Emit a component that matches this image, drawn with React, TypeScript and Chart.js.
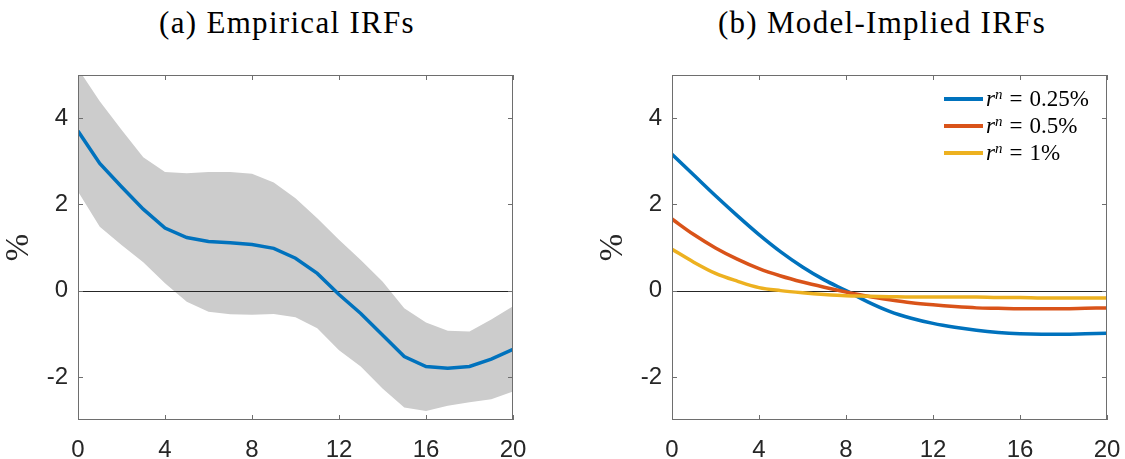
import React, { useEffect, useRef } from "react";
import { Chart, registerables } from "chart.js";

Chart.register(...registerables);

// ---------- data ----------
const horizons = [0, 1, 2, 3, 4, 5, 6, 7, 8, 9, 10, 11, 12, 13, 14, 15, 16, 17, 18, 19, 20];

const empiricalIrf = [3.70, 2.95, 2.41, 1.89, 1.45, 1.23, 1.14, 1.11, 1.07, 0.98, 0.75, 0.40, -0.09, -0.53, -1.03, -1.53, -1.76, -1.80, -1.76, -1.59, -1.36];
const empiricalUpper = [5.15, 4.39, 3.73, 3.09, 2.75, 2.72, 2.75, 2.75, 2.71, 2.51, 2.14, 1.68, 1.18, 0.71, 0.21, -0.41, -0.74, -0.93, -0.95, -0.67, -0.36];
const empiricalLower = [2.30, 1.48, 1.06, 0.66, 0.17, -0.26, -0.49, -0.55, -0.56, -0.54, -0.62, -0.87, -1.38, -1.76, -2.27, -2.71, -2.79, -2.67, -2.59, -2.52, -2.34];

const modelIrf025 = [3.16, 2.68, 2.20, 1.74, 1.30, 0.90, 0.55, 0.25, 0.0, -0.26, -0.48, -0.64, -0.76, -0.85, -0.92, -0.97, -1.00, -1.01, -1.01, -1.00, -0.99];
const modelIrf05 = [1.66, 1.30, 0.99, 0.73, 0.51, 0.34, 0.20, 0.08, -0.03, -0.13, -0.21, -0.28, -0.33, -0.37, -0.40, -0.41, -0.42, -0.42, -0.42, -0.41, -0.40];
const modelIrf1 = [0.96, 0.66, 0.40, 0.22, 0.07, 0.0, -0.05, -0.09, -0.12, -0.13, -0.14, -0.15, -0.15, -0.15, -0.15, -0.16, -0.16, -0.17, -0.17, -0.17, -0.17];

const xTickValues = [0, 4, 8, 12, 16, 20];
const yTickValues = [-2, 0, 2, 4];
const panelTitles = ["(a) Empirical IRFs", "(b) Model-Implied IRFs"];
const legendRates = ["0.25%", "0.5%", "1%"];
const seriesColors = ["#0072BD", "#D95319", "#EDB120"];
const bandColor = "#CCCCCC";
const axisLabel = "%";

// ---------- helpers ----------
const toPoints = (vals: number[]) => vals.map((v, i) => ({ x: horizons[i], y: v }));

const drawZero = (chart: any) => {
  const { ctx, chartArea, scales } = chart;
  const y = Math.round(scales.y.getPixelForValue(0)) + 0.5;
  ctx.save();
  ctx.strokeStyle = "#262626";
  ctx.lineWidth = 1;
  ctx.beginPath();
  ctx.moveTo(chartArea.left, y);
  ctx.lineTo(chartArea.right, y);
  ctx.stroke();
  ctx.restore();
};

const framePlugin = {
  id: "matlabFrame",
  beforeDatasetsDraw(chart: any, _args: any, opts: any) {
    if (opts.zeroAfterIndex === -1) drawZero(chart);
  },
  afterDatasetDraw(chart: any, args: any, opts: any) {
    if (args.index === opts.zeroAfterIndex) drawZero(chart);
  },
  afterDraw(chart: any) {
    const { ctx, chartArea, scales } = chart;
    const { left, right, top, bottom } = chartArea;
    ctx.save();
    ctx.strokeStyle = "#6e6e6e";
    ctx.lineWidth = 1;
    ctx.strokeRect(left + 0.5, top + 0.5, right - left - 1, bottom - top - 1);
    const tl = 5;
    ctx.beginPath();
    xTickValues.forEach((v) => {
      const x = Math.round(scales.x.getPixelForValue(v)) + 0.5;
      ctx.moveTo(x, bottom);
      ctx.lineTo(x, bottom - tl);
      ctx.moveTo(x, top);
      ctx.lineTo(x, top + tl);
    });
    yTickValues.forEach((v) => {
      const y = Math.round(scales.y.getPixelForValue(v)) + 0.5;
      ctx.moveTo(left, y);
      ctx.lineTo(left + tl, y);
      ctx.moveTo(right, y);
      ctx.lineTo(right - tl, y);
    });
    ctx.stroke();
    ctx.restore();
  },
};

const makeOptions = (rightPad: number, zeroAfterIndex: number) => ({
  responsive: false,
  animation: false as const,
  layout: { padding: { top: 75, right: rightPad, left: 0, bottom: 0 } },
  plugins: {
    legend: { display: false },
    tooltip: { enabled: false },
    title: { display: false },
    matlabFrame: { zeroAfterIndex },
  },
  elements: { point: { radius: 0 } },
  scales: {
    x: {
      type: "linear" as const,
      min: 0,
      max: 20,
      grid: { display: false, drawTicks: false },
      border: { display: false },
      ticks: {
        padding: 16,
        color: "#262626",
        font: { family: '"Liberation Sans", Arial, sans-serif', size: 24 },
        maxRotation: 0,
        autoSkip: false,
      },
      afterBuildTicks: (s: any) => {
        s.ticks = xTickValues.map((v) => ({ value: v }));
      },
      afterFit: (s: any) => {
        s.height = 39;
        s.paddingLeft = 0;
        s.paddingRight = 0;
      },
    },
    y: {
      type: "linear" as const,
      min: -3,
      max: 5,
      grid: { display: false, drawTicks: false },
      border: { display: false },
      ticks: {
        padding: 10,
        color: "#262626",
        font: { family: '"Liberation Sans", Arial, sans-serif', size: 24 },
      },
      afterBuildTicks: (s: any) => {
        s.ticks = yTickValues.map((v) => ({ value: v }));
      },
      afterFit: (s: any) => {
        s.width = 78;
        s.paddingTop = 0;
        s.paddingBottom = 0;
      },
      title: {
        display: true,
        text: axisLabel,
        color: "#262626",
        font: { family: '"Liberation Serif", serif', size: 33 },
        padding: { top: 0, bottom: 0 },
      },
    },
  },
});

const lineDs = (label: string, vals: number[], color: string, smooth: boolean) => ({
  label,
  data: toPoints(vals),
  borderColor: color,
  backgroundColor: color,
  borderWidth: 3.5,
  pointRadius: 0,
  fill: false,
  cubicInterpolationMode: smooth ? ("monotone" as const) : ("default" as const),
  tension: 0,
});

export default function App() {
  const leftRef = useRef<HTMLCanvasElement>(null);
  const rightRef = useRef<HTMLCanvasElement>(null);

  useEffect(() => {
    document.body.style.margin = "0";
    const left = new Chart(leftRef.current as HTMLCanvasElement, {
      type: "line",
      data: {
        datasets: [
          lineDs("Empirical IRF", empiricalIrf, seriesColors[0], false),
          {
            label: "Upper band",
            data: toPoints(empiricalUpper),
            borderWidth: 0,
            borderColor: "rgba(0,0,0,0)",
            backgroundColor: bandColor,
            pointRadius: 0,
            fill: "+1",
          },
          {
            label: "Lower band",
            data: toPoints(empiricalLower),
            borderWidth: 0,
            borderColor: "rgba(0,0,0,0)",
            backgroundColor: bandColor,
            pointRadius: 0,
            fill: false,
          },
        ],
      },
      options: makeOptions(47, 1) as any,
      plugins: [framePlugin],
    });
    const right = new Chart(rightRef.current as HTMLCanvasElement, {
      type: "line",
      data: {
        datasets: [
          lineDs("r^n = 1%", modelIrf1, seriesColors[2], true),
          lineDs("r^n = 0.5%", modelIrf05, seriesColors[1], true),
          lineDs("r^n = 0.25%", modelIrf025, seriesColors[0], true),
        ],
      },
      options: makeOptions(18, -1) as any,
      plugins: [framePlugin],
    });
    return () => {
      left.destroy();
      right.destroy();
    };
  }, []);

  const titleStyle = (cx: number): React.CSSProperties => ({
    position: "absolute",
    left: cx,
    top: 8,
    transform: "translateX(-50%)",
    whiteSpace: "nowrap",
    fontFamily: '"Liberation Serif", serif',
    fontSize: 31,
    lineHeight: "30px",
    letterSpacing: "1.3px",
    color: "#000",
  });

  return (
    <div style={{ position: "relative", width: 1125, height: 459, background: "#fff", overflow: "hidden" }}>
      <div style={titleStyle(287)}>{panelTitles[0]}</div>
      <div style={titleStyle(882)}>{panelTitles[1]}</div>
      <canvas ref={leftRef} width={560} height={459} style={{ position: "absolute", left: 0, top: 0, display: "block" }} />
      <canvas ref={rightRef} width={531} height={459} style={{ position: "absolute", left: 594, top: 0, display: "block" }} />
      <div style={{ position: "absolute", left: 944, top: 86, fontFamily: '"Liberation Serif", serif', fontSize: 23, color: "#000" }}>
        {legendRates.map((rate, i) => (
          <div key={rate} style={{ display: "flex", alignItems: "center", height: 26.7, whiteSpace: "nowrap" }}>
            <span style={{ display: "inline-block", width: 39, height: 4, background: seriesColors[i], marginRight: 3 }} />
            <span>
              <i>r</i>
              <sup style={{ fontSize: 15, fontStyle: "italic", verticalAlign: "7px", lineHeight: 0 }}>n</sup>
              <span style={{ margin: "0 7px" }}>=</span>
              {rate}
            </span>
          </div>
        ))}
      </div>
    </div>
  );
}
